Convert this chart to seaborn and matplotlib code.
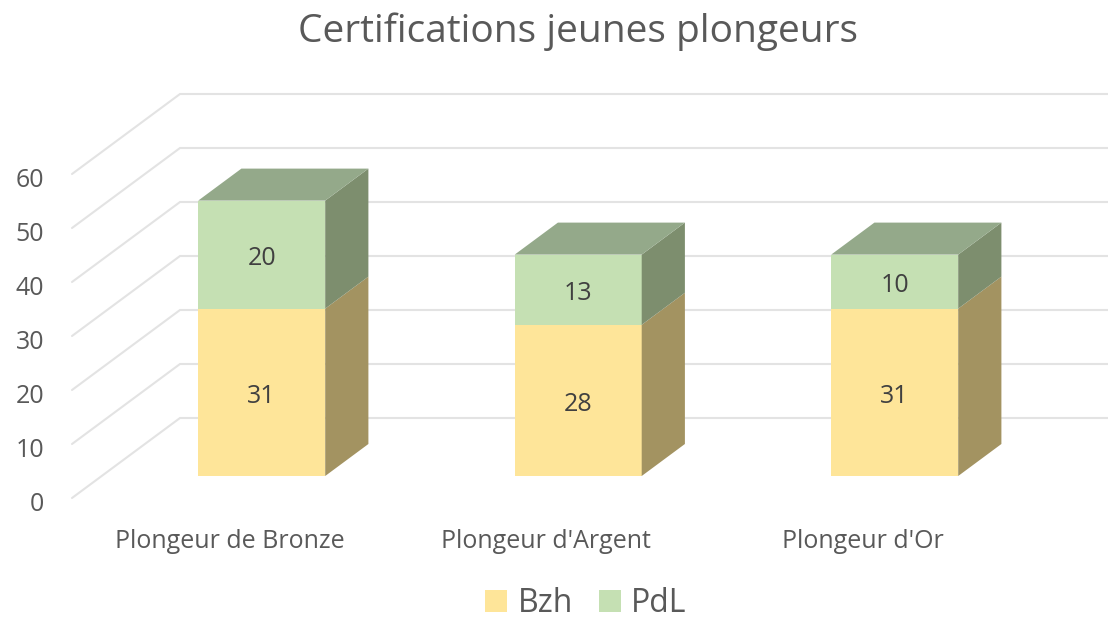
import matplotlib
matplotlib.use('Agg')
import matplotlib.pyplot as plt
from matplotlib.patches import Patch, Polygon
from matplotlib.transforms import ScaledTranslation
import pandas as pd
import seaborn as sns

categories = ['Plongeur de Bronze', "Plongeur d'Argent", "Plongeur d'Or"]
bzh = [31, 28, 31]
pdl = [20, 13, 10]
yticks = [0, 10, 20, 30, 40, 50, 60]

W, H = 1108, 620
# front plane of the chart, in pixels of the picture
LEFT, FLOOR, TOP60 = 72, 498, 174
UNIT_X = 316.5
UNIT_Y = (FLOOR - TOP60) / 60
FIRST_CAT = 232
# full depth of the 3d box
DEPTH_X = 108 / UNIT_X
DEPTH_Y = 80 / UNIT_Y
BAR_START = 0.275
BAR_DEPTH = 0.4
BAR_W = 127 / UNIT_X

GREY = '#595959'
GRID = '#e3e3e3'
FACES = {'front': ['#fee599', '#c5e0b3'], 'side': ['#a39361', '#7d8e6e'], 'top': ['#a39361', '#94a98a']}

df = pd.DataFrame({'cat': categories, 'Bzh': bzh, 'PdL': pdl})

sns.set_theme(style='white')
plt.rcParams['font.family'] = ['Open Sans', 'DejaVu Sans']

fig = plt.figure(figsize=(W / 100, H / 100), dpi=100)
ax = fig.add_axes([LEFT / W, 1 - FLOOR / H, (W - LEFT) / W, (FLOOR - TOP60) / H])

sns.barplot(data=df, x='cat', y='Bzh', color=FACES['front'][0], width=BAR_W, saturation=1, ax=ax, zorder=3)
sns.barplot(data=df, x='cat', y='PdL', bottom=df['Bzh'], color=FACES['front'][1], width=BAR_W, saturation=1, ax=ax, zorder=3)

xmin = (LEFT - FIRST_CAT) / UNIT_X
xmax = (W - FIRST_CAT) / UNIT_X
ax.set_xlim(xmin, xmax)
ax.set_ylim(0, 60)

# walls: one line on the side wall and one on the back wall per tick
for t in yticks:
    ax.plot([xmin, xmin + DEPTH_X, xmax], [t, t + DEPTH_Y, t + DEPTH_Y], color=GRID, lw=1.5,
            clip_on=False, zorder=1, solid_joinstyle='miter')

# bars are moved into the box, then get their side and top faces
sx = BAR_START * DEPTH_X
sy = BAR_START * DEPTH_Y
dx = BAR_DEPTH * DEPTH_X
dy = BAR_DEPTH * DEPTH_Y
n = len(categories)
for i, bar in enumerate(ax.patches):
    serie = i // n
    x0 = bar.get_x() + sx
    y0 = bar.get_y() + sy
    w = bar.get_width()
    h = bar.get_height()
    bar.set_x(x0)
    bar.set_y(y0)
    bar.set_clip_on(False)
    bar.set_linewidth(0)
    x1 = x0 + w
    y1 = y0 + h
    ax.add_patch(Polygon([(x1, y0), (x1 + dx, y0 + dy), (x1 + dx, y1 + dy), (x1, y1)],
                         fc=FACES['side'][serie], lw=0, clip_on=False, zorder=3))
    if serie == 1:
        ax.add_patch(Polygon([(x0, y1), (x1, y1), (x1 + dx, y1 + dy), (x0 + dx, y1 + dy)],
                             fc=FACES['top'][serie], lw=0, clip_on=False, zorder=3))
    value = bzh[i % n] if serie == 0 else pdl[i % n]
    ax.text(x0 + w / 2, y0 + h / 2 - 0.7, str(value), ha='center', va='center', fontsize=18,
            color='#404040', zorder=4)

ax.set_xlabel('')
ax.set_ylabel('')
ax.set_yticks(yticks)
ax.set_yticklabels([str(t) for t in yticks])
# labels sit a little left of the bar axis in the original
ax.set_xticks([i - 2.5 / UNIT_X for i in range(n)])
ax.set_xticklabels(categories)
ax.tick_params(axis='y', length=0, pad=20, labelsize=18, labelcolor=GREY)
ax.tick_params(axis='x', length=0, pad=22, labelsize=18, labelcolor=GREY)
# y labels sit a bit under their line
shift = ScaledTranslation(0, -3.5 / 100, fig.dpi_scale_trans)
for label in ax.get_yticklabels():
    label.set_transform(label.get_transform() + shift)
sns.despine(ax=ax, left=True, bottom=True)

fig.text(578 / W, 1 - 32 / H, 'Certifications jeunes plongeurs', ha='center', va='center',
         fontsize=28, color=GREY)

handles = [Patch(fc=FACES['front'][0], lw=0, label='Bzh'), Patch(fc=FACES['front'][1], lw=0, label='PdL')]
fig.legend(handles=handles, loc='center', bbox_to_anchor=(586 / W, 1 - 604 / H), ncol=2, frameon=False,
           fontsize=23, labelcolor=GREY, handlelength=0.69, handleheight=0.69, handletextpad=0.33,
           columnspacing=0.8, borderpad=0)

fig.savefig('out.png', dpi=100)
